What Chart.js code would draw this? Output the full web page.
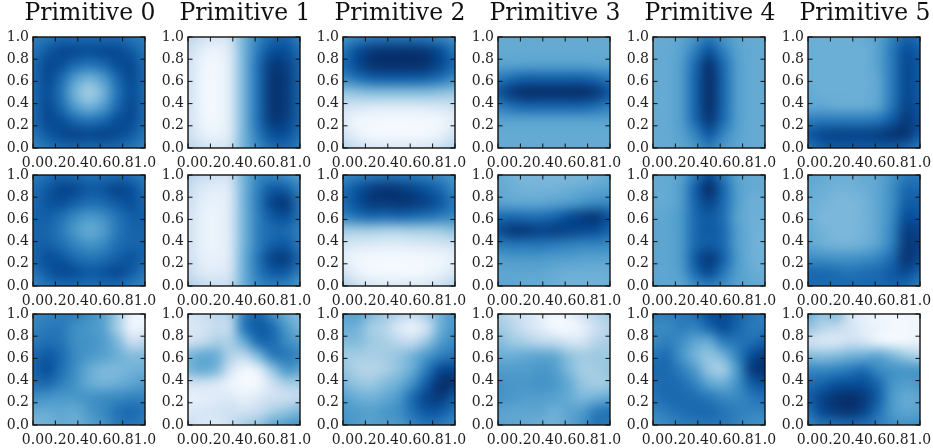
<!DOCTYPE html>
<html>
<head>
<meta charset="utf-8">
<script src="https://cdn.jsdelivr.net/npm/chart.js@4"></script>
<style>
  html, body { margin: 0; padding: 0; background: #fff; }
  body { position: relative; width: 933px; height: 448px; overflow: hidden; }
  canvas { position: absolute; }
</style>
</head>
<body>
<script>
const titles = ["Primitive 0", "Primitive 1", "Primitive 2", "Primitive 3", "Primitive 4", "Primitive 5"];
const tickValues = [0, 0.2, 0.4, 0.6, 0.8, 1];
const tickLabels = ["0.0", "0.2", "0.4", "0.6", "0.8", "1.0"];
const gridX = [0, 0.125, 0.25, 0.375, 0.5, 0.625, 0.75, 0.875, 1];
const gridY = [1, 0.875, 0.75, 0.625, 0.5, 0.375, 0.25, 0.125, 0];
const blues = ["#f7fbff", "#deebf7", "#c6dbef", "#9ecae1", "#6baed6", "#4292c6", "#2171b5", "#08519c", "#08306b"];

// panel values, 0-100. rows go top to bottom
const top0 = [70,74,78,78,78,78,78,74,70, 74,84,90,90,88,90,90,84,74, 78,90,88,78,74,78,88,90,78, 78,90,78,58,48,58,78,90,78, 78,88,74,48,36,48,74,88,78, 78,90,78,58,48,58,78,90,78, 78,90,88,78,74,78,88,90,78, 74,84,90,92,90,92,90,84,74, 68,74,78,80,78,80,78,74,68];
const top1 = [28,20,16,22,48,68,78,80,70, 22,10,6,15,48,72,88,88,76, 20,6,3,14,48,76,96,94,80, 20,5,2,14,48,76,98,96,80, 20,5,2,14,48,76,98,96,80, 20,5,2,14,48,76,98,96,80, 20,6,3,14,48,76,96,94,80, 22,10,6,15,48,72,88,88,76, 28,20,16,22,48,66,76,78,70];
const top2 = [62,68,72,74,74,74,72,68,62, 74,88,96,98,98,98,96,88,74, 78,90,98,100,100,100,98,90,78, 66,74,80,82,82,82,80,74,66, 40,42,44,44,44,44,44,42,40, 20,17,15,14,14,14,15,17,20, 12,4,3,2,2,2,3,4,12, 18,8,3,2,2,2,3,8,18, 30,22,16,14,14,14,16,22,30];
const top3 = [52,52,52,52,52,52,52,52,52, 52,52,52,52,52,52,52,52,52, 56,56,57,57,57,57,57,56,56, 72,78,82,82,82,82,82,78,72, 85,96,100,100,100,100,100,96,85, 70,76,80,80,80,80,80,76,70, 56,56,56,56,56,56,56,56,56, 52,52,52,52,52,52,52,52,52, 52,52,52,52,52,52,52,52,52];
const top4 = [52,52,54,62,72,62,54,52,52, 52,52,56,70,86,70,56,52,52, 52,52,58,78,98,78,58,52,52, 52,52,58,80,100,80,58,52,52, 52,52,58,80,100,80,58,52,52, 52,52,58,80,100,80,58,52,52, 52,52,58,78,96,78,58,52,52, 52,52,56,68,84,68,56,52,52, 52,52,54,60,70,60,54,52,52];
const top5 = [50,50,50,50,52,56,68,80,76, 50,50,50,50,50,56,72,88,82, 50,50,50,50,50,56,72,90,84, 50,50,50,50,50,54,72,90,84, 52,50,50,50,50,54,72,90,84, 54,54,52,52,52,56,74,92,86, 70,72,72,72,72,74,84,96,88, 84,90,92,92,92,94,98,98,84, 74,82,84,84,84,84,84,80,72];
const mid0 = [72,76,80,78,76,76,78,76,70, 76,84,92,90,84,86,92,88,76, 78,86,88,82,76,78,84,88,80, 80,82,76,66,60,64,74,82,82, 80,80,72,60,52,58,72,80,80, 80,82,76,68,62,66,76,80,80, 80,88,86,78,74,76,82,86,80, 74,84,90,88,84,86,90,84,74, 68,74,78,78,76,78,78,72,68];
const mid1 = [30,24,20,22,48,66,68,64,58, 24,14,10,16,48,70,84,82,68, 22,10,7,15,48,72,92,96,74, 20,8,6,15,48,70,84,88,74, 20,8,6,15,48,70,78,78,70, 20,8,6,15,48,70,82,84,72, 22,10,8,16,50,74,92,94,78, 24,14,12,18,50,72,84,84,70, 32,26,22,26,50,66,70,68,60];
const mid2 = [66,70,72,74,74,72,70,66,60, 76,86,94,98,96,92,86,78,66, 78,88,96,96,98,96,92,84,72, 68,74,78,76,78,76,74,70,66, 36,36,36,34,34,36,36,38,42, 18,15,13,12,12,13,15,17,20, 10,4,3,2,2,3,3,5,10, 18,8,3,2,2,2,4,8,16, 32,22,16,14,14,14,16,22,30];
const mid3 = [52,48,46,46,46,46,46,48,52, 52,50,48,48,48,50,52,54,56, 56,54,54,54,56,58,62,66,66, 76,78,76,76,80,88,94,96,86, 88,96,96,92,94,92,90,88,80, 72,74,74,74,72,70,68,68,66, 58,60,60,60,58,58,56,56,56, 54,54,54,54,52,50,50,50,50, 54,54,52,52,50,48,48,48,50];
const mid4 = [52,52,56,72,90,72,56,52,52, 52,52,58,82,100,80,58,52,52, 52,52,58,80,92,78,58,50,50, 54,54,60,78,84,76,56,50,50, 54,54,60,78,84,78,58,50,48, 54,54,60,78,84,78,58,50,48, 54,54,60,84,96,82,60,50,48, 54,54,58,78,90,74,58,52,50, 54,54,54,64,70,64,56,54,52];
const mid5 = [54,52,50,50,52,54,62,72,72, 52,50,48,48,50,54,64,78,78, 50,48,46,46,48,54,64,82,82, 50,46,46,46,48,54,66,88,86, 52,48,46,46,48,54,68,94,92, 54,50,48,48,50,56,70,96,94, 64,64,62,62,64,68,78,98,90, 78,78,76,74,76,78,84,90,80, 78,78,78,78,78,78,80,78,70];
const low0 = [66,68,70,70,64,56,38,6,4, 68,72,72,64,60,56,36,6,8, 72,76,74,64,62,58,46,24,28, 78,84,78,66,60,56,50,44,44, 80,88,76,64,52,46,46,48,50, 76,78,70,62,52,48,50,54,58, 64,62,60,60,62,64,66,68,68, 52,52,54,52,60,66,74,78,74, 46,48,52,50,56,62,72,74,70];
const low1 = [18,22,28,32,70,80,66,50,44, 14,18,24,28,72,84,78,60,48, 20,26,34,34,52,76,78,66,58, 46,52,50,32,28,46,70,72,66, 46,52,46,20,4,10,40,60,56, 20,20,16,6,1,3,20,34,36, 8,10,12,14,8,14,20,22,26, 14,16,18,20,20,24,34,40,46, 24,16,14,22,34,40,52,58,62];
const low2 = [54,56,44,38,30,24,36,50,60, 50,48,36,30,14,8,22,50,62, 44,44,38,34,28,26,40,58,66, 36,36,34,36,40,48,60,70,74, 40,32,30,34,42,52,72,90,92, 46,40,38,44,50,64,84,100,98, 56,50,48,52,60,78,92,96,84, 60,58,56,60,64,76,86,84,74, 62,58,56,58,60,68,74,72,66];
const low3 = [32,26,18,10,4,6,18,30,36, 38,30,20,12,3,2,8,22,30, 44,38,34,28,26,18,18,30,34, 50,50,52,54,52,42,36,38,38, 58,58,58,60,58,46,36,36,40, 62,60,60,62,60,52,40,36,38, 62,60,58,58,56,52,46,48,52, 56,54,54,54,50,54,58,70,74, 54,54,52,50,48,54,62,74,72];
const low4 = [70,70,72,76,88,90,82,74,70, 66,66,70,68,78,88,80,72,72, 66,70,64,54,52,70,74,76,82, 74,76,62,48,40,48,68,88,96, 78,78,70,58,40,36,60,94,100, 76,78,76,68,54,50,62,82,88, 74,78,78,76,72,66,66,72,76, 68,72,76,78,78,74,70,68,68, 62,66,70,72,74,72,68,64,62];
const low5 = [50,40,44,18,8,4,3,3,4, 40,30,26,18,10,6,2,2,4, 20,16,16,22,18,8,4,5,8, 44,42,44,48,50,54,46,38,32, 66,66,68,72,76,66,62,60,60, 76,80,86,88,88,78,62,58,60, 82,92,98,100,96,82,60,52,54, 76,90,96,98,92,76,60,54,56, 68,74,76,78,76,70,64,62,64];

const panels = [
  [top0, top1, top2, top3, top4, top5],
  [mid0, mid1, mid2, mid3, mid4, mid5],
  [low0, low1, low2, low3, low4, low5]
];

const plotLeft = [33, 188, 343, 498, 653, 808];
const plotTop = [37, 175, 314];
const plotSize = 112;
const plotHeight = 111;
const rightGap = 35; // blank axis on the right, keeps the title centred over the plot
const serif = "'DejaVu Serif', serif";

function hexToRgb(h) {
  return [parseInt(h.slice(1, 3), 16), parseInt(h.slice(3, 5), 16), parseInt(h.slice(5, 7), 16)];
}

function bluesColor(v) {
  const t = Math.min(Math.max(v / 100, 0), 1) * (blues.length - 1);
  const i = Math.min(Math.floor(t), blues.length - 2);
  const a = hexToRgb(blues[i]);
  const b = hexToRgb(blues[i + 1]);
  return a.map((c, k) => c + (b[k] - c) * (t - i));
}

// paints the dataset's grid as a smoothed image between the axis limits
const heatPlugin = {
  id: "heat",
  beforeDatasetsDraw(chart) {
    const pts = chart.data.datasets[0].data;
    const nx = gridX.length;
    const ny = gridY.length;
    const off = document.createElement("canvas");
    off.width = nx;
    off.height = ny;
    const octx = off.getContext("2d");
    const img = octx.createImageData(nx, ny);
    pts.forEach((p, i) => {
      const rgb = bluesColor(p.v);
      img.data[i * 4] = rgb[0];
      img.data[i * 4 + 1] = rgb[1];
      img.data[i * 4 + 2] = rgb[2];
      img.data[i * 4 + 3] = 255;
    });
    octx.putImageData(img, 0, 0);
    const xs = chart.scales.x;
    const ys = chart.scales.y;
    const x0 = xs.getPixelForValue(0);
    const x1 = xs.getPixelForValue(1);
    const y0 = ys.getPixelForValue(1);
    const y1 = ys.getPixelForValue(0);
    const ctx = chart.ctx;
    ctx.save();
    ctx.imageSmoothingEnabled = true;
    ctx.imageSmoothingQuality = "high";
    ctx.drawImage(off, 0.5, 0.5, nx - 1, ny - 1, x0, y0, x1 - x0, y1 - y0);
    ctx.restore();
  }
};

// matplotlib style frame with inward ticks on all four sides
const framePlugin = {
  id: "frame",
  afterDatasetsDraw(chart) {
    const { left, right, top, bottom } = chart.chartArea;
    const ctx = chart.ctx;
    ctx.save();
    ctx.strokeStyle = "#111";
    ctx.lineWidth = 1;
    ctx.beginPath();
    tickValues.forEach(v => {
      const x = chart.scales.x.getPixelForValue(v);
      const y = chart.scales.y.getPixelForValue(v);
      ctx.moveTo(x, bottom); ctx.lineTo(x, bottom - 4.5);
      ctx.moveTo(x, top); ctx.lineTo(x, top + 4.5);
      ctx.moveTo(left, y); ctx.lineTo(left + 4.5, y);
      ctx.moveTo(right, y); ctx.lineTo(right - 4.5, y);
    });
    ctx.stroke();
    ctx.lineWidth = 1.4;
    ctx.strokeRect(left, top, right - left, bottom - top);
    ctx.restore();
  }
};

function clearPadding(scale) {
  // labels may hang past the plot, the layout should not make room for them
  scale.paddingLeft = 0;
  scale.paddingRight = 0;
  scale.paddingTop = 0;
  scale.paddingBottom = 0;
}

function axisOptions(isX) {
  return {
    type: "linear",
    min: 0,
    max: 1,
    afterBuildTicks(scale) { scale.ticks = tickValues.map(v => ({ value: v })); },
    afterFit(scale) {
      if (isX) scale.height = 22; else scale.width = 33;
      clearPadding(scale);
    },
    grid: { display: false, drawTicks: false },
    border: { display: false },
    ticks: {
      autoSkip: false,
      maxRotation: 0,
      padding: isX ? 7 : 4,
      color: "#222",
      font: { family: serif, size: 14 },
      callback: v => tickLabels[tickValues.indexOf(v)]
    }
  };
}

const blankRightAxis = {
  type: "linear",
  position: "right",
  min: 0,
  max: 1,
  afterFit(scale) {
    scale.width = rightGap;
    clearPadding(scale);
  },
  grid: { display: false, drawTicks: false },
  border: { display: false },
  ticks: { display: false }
};

panels.forEach((row, r) => {
  row.forEach((values, c) => {
    const canvas = document.createElement("canvas");
    const canvasTop = r === 0 ? 0 : plotTop[r] - 12;
    const w = 33 + plotSize + rightGap;
    const h = plotTop[r] - canvasTop + plotHeight + 22;
    canvas.width = w;
    canvas.height = h;
    canvas.style.left = (plotLeft[c] - 33) + "px";
    canvas.style.top = canvasTop + "px";
    canvas.style.width = w + "px";
    canvas.style.height = h + "px";
    document.body.appendChild(canvas);

    const points = [];
    gridY.forEach((y, j) => {
      gridX.forEach((x, i) => {
        points.push({ x: x, y: y, v: values[j * gridX.length + i] });
      });
    });

    new Chart(canvas, {
      type: "scatter",
      data: { datasets: [{ data: points, pointRadius: 0, showLine: false }] },
      options: {
        responsive: false,
        animation: false,
        devicePixelRatio: 1,
        layout: { padding: { top: r === 0 ? 0 : 12, right: 0, left: 0, bottom: 0 } },
        scales: { x: axisOptions(true), y: axisOptions(false), yRight: blankRightAxis },
        plugins: {
          legend: { display: false },
          tooltip: { enabled: false },
          title: {
            display: r === 0,
            text: titles[c],
            color: "#111",
            font: { family: serif, size: 23.5, weight: "normal", lineHeight: 1.2 },
            padding: { top: 0, bottom: 8.8 }
          }
        }
      },
      plugins: [heatPlugin, framePlugin]
    });
  });
});
</script>
</body>
</html>
